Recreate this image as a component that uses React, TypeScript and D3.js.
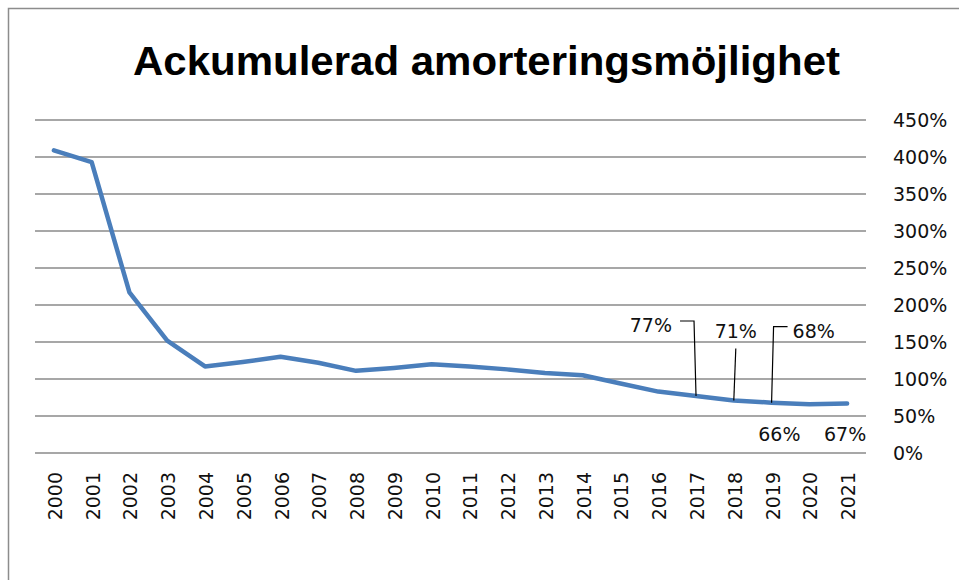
import * as d3 from "d3";
import { useEffect, useRef } from "react";

const years = [
  "2000", "2001", "2002", "2003", "2004", "2005", "2006", "2007", "2008", "2009", "2010",
  "2011", "2012", "2013", "2014", "2015", "2016", "2017", "2018", "2019", "2020", "2021",
];
const values = [
  4.09, 3.93, 2.17, 1.52, 1.17, 1.23, 1.3, 1.22, 1.11, 1.15, 1.2,
  1.17, 1.13, 1.08, 1.05, 0.94, 0.83, 0.77, 0.71, 0.68, 0.66, 0.67,
];
const yTicks = [0, 0.5, 1, 1.5, 2, 2.5, 3, 3.5, 4, 4.5];
const labelledYears = ["2017", "2018", "2019", "2020", "2021"];
const title = "Ackumulerad amorteringsmöjlighet";

const App = () => {
  const svgRef = useRef<SVGSVGElement>(null);

  useEffect(() => {
    const W = 959;
    const H = 580;
    const svg = d3.select(svgRef.current);
    svg.selectAll("*").remove();

    svg.append("rect").attr("width", W).attr("height", H).attr("fill", "#fff");

    // outer frame (top + left visible)
    svg
      .append("path")
      .attr("d", `M8.5,${H} V8.5 H${W}`)
      .attr("fill", "none")
      .attr("stroke", "#8c8c8c")
      .attr("stroke-width", 1.5);

    const x = d3.scaleBand<string>().domain(years).range([35, 866]);
    const y = d3.scaleLinear().domain([0, 4.5]).range([453, 120]);
    const cx = (yr: string) => (x(yr) ?? 0) + x.bandwidth() / 2;

    // title
    svg
      .append("text")
      .attr("x", 133)
      .attr("y", 75)
      .attr("font-family", "'Liberation Sans Narrow', 'Liberation Sans', sans-serif")
      .attr("font-weight", "bold")
      .attr("font-size", 40)
      .attr("textLength", 707)
      .attr("lengthAdjust", "spacingAndGlyphs")
      .attr("fill", "#000")
      .text(title);

    // gridlines
    svg
      .append("g")
      .selectAll("line")
      .data(yTicks)
      .join("line")
      .attr("x1", 35)
      .attr("x2", 866)
      .attr("y1", (d) => y(d))
      .attr("y2", (d) => y(d))
      .attr("stroke", "#8a8a8a")
      .attr("stroke-width", 1.6);

    // right axis labels
    svg
      .append("g")
      .selectAll("text")
      .data(yTicks)
      .join("text")
      .attr("x", 893)
      .attr("y", (d) => y(d))
      .attr("dominant-baseline", "central")
      .attr("font-family", "'DejaVu Sans', Verdana, sans-serif")
      .attr("font-size", 19)
      .attr("fill", "#111")
      .text((d) => d3.format(".0%")(d));

    // year labels
    svg
      .append("g")
      .selectAll("text")
      .data(years)
      .join("text")
      .attr("transform", (d) => `translate(${cx(d) + 1},472) rotate(-90)`)
      .attr("text-anchor", "end")
      .attr("dominant-baseline", "central")
      .attr("font-family", "'DejaVu Sans', Verdana, sans-serif")
      .attr("font-size", 19)
      .attr("fill", "#111")
      .text((d) => d);

    // series line
    const pts = years.map((yr, i) => [cx(yr), y(values[i])] as [number, number]);
    svg
      .append("path")
      .datum(pts)
      .attr("fill", "none")
      .attr("stroke", "#4a7ebb")
      .attr("stroke-width", 4.5)
      .attr("stroke-linejoin", "round")
      .attr("stroke-linecap", "round")
      .attr("d", d3.line()(pts));

    // data labels with leader lines
    const layout: Record<string, { dx: number; dy: number; anchor: string; leader?: [number, number][] }> = {
      "2017": { dx: -24, dy: -71, anchor: "end", leader: [[-2, -75], [-16, -75]] },
      "2018": { dx: 2, dy: -69, anchor: "middle", leader: [[2, -52]] },
      "2019": { dx: 21, dy: -72, anchor: "start", leader: [[2, -76], [16, -76]] },
      "2020": { dx: -30, dy: 30, anchor: "middle" },
      "2021": { dx: -2, dy: 31, anchor: "middle" },
    };
    const lbl = svg.append("g");
    labelledYears.forEach((yr) => {
      const i = years.indexOf(yr);
      const px = cx(yr);
      const py = y(values[i]);
      const l = layout[yr];
      if (l.leader) {
        const path = d3.path();
        path.moveTo(px, py);
        l.leader.forEach(([a, b]) => path.lineTo(px + a, py + b));
        lbl
          .append("path")
          .attr("d", path.toString())
          .attr("fill", "none")
          .attr("stroke", "#000")
          .attr("stroke-width", 1.2);
      }
      lbl
        .append("text")
        .attr("x", px + l.dx)
        .attr("y", py + l.dy)
        .attr("text-anchor", l.anchor)
        .attr("dominant-baseline", "central")
        .attr("font-family", "'DejaVu Sans', Verdana, sans-serif")
        .attr("font-size", 19)
        .attr("fill", "#111")
        .text(d3.format(".0%")(values[i]));
    });
  }, []);

  return (
    <svg
      ref={svgRef}
      width={959}
      height={580}
      style={{ position: "absolute", left: 0, top: 0 }}
    />
  );
};

export default App;
